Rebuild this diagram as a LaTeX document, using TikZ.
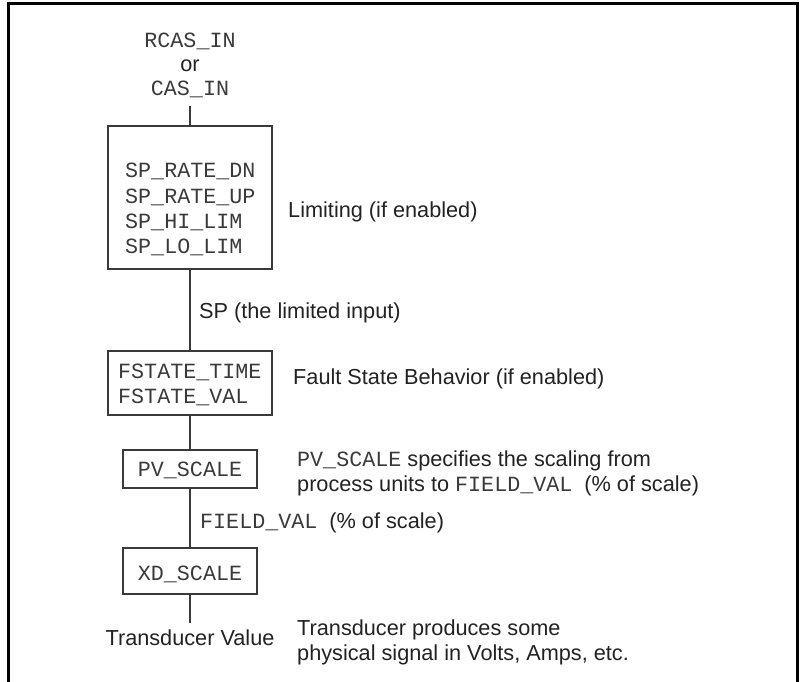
\documentclass[tikz,border=0pt]{standalone}
\usepackage{fontspec}
\setmainfont{Liberation Sans}
\setmonofont{Liberation Mono}
\definecolor{linegray}{HTML}{3A3A3A}
\definecolor{textgray}{HTML}{222222}
\definecolor{monogray}{HTML}{3A3A3A}
\newcommand\mytt[1]{{\ttfamily\color{monogray}#1}}
\begin{document}
\begin{tikzpicture}[x=1pt,y=-1pt,
  box/.style={draw=linegray, line width=1.4pt, inner sep=0pt},
  conn/.style={draw=linegray, line width=1.4pt},
  lbl/.style={inner sep=0pt, text=textgray, font=\fontsize{21.7}{25}\selectfont},
  lblw/.style={lbl, anchor=base west},
  lblc/.style={lbl, anchor=base},
  frame/.style={draw=black, line width=3pt}]
\useasboundingbox (0,0) rectangle (800,682);
% outer frame (open at the bottom)
\draw[frame] (8,682) -- (8,4) -- (797,4) -- (797,682);

% input labels
\node[lblc] (rcas) at (190,48) {\mytt{RCAS\_IN}};
\node[lblc] (or) at (190,72) {or};
\node[lblc] (cas) at (190,96) {\mytt{CAS\_IN}};
\coordinate (inEnd) at (190,106);

% boxes
\node[box, minimum width=164pt, minimum height=143pt] (lim) at (190,197.5) {};
\node[box, minimum width=164pt, minimum height=64pt] (fst) at (190,383) {};
\node[box, minimum width=134pt, minimum height=38pt] (pv) at (190,469) {};
\node[box, minimum width=134pt, minimum height=46pt] (xd) at (190,571) {};
\coordinate (tvTop) at (190,623);

% texts inside boxes
\node[lblw] (l1) at (125,177) {\mytt{SP\_RATE\_DN}};
\node[lblw] (l2) at (125,203) {\mytt{SP\_RATE\_UP}};
\node[lblw] (l3) at (125,228) {\mytt{SP\_HI\_LIM}};
\node[lblw] (l4) at (125,253) {\mytt{SP\_LO\_LIM}};
\node[lblw] (f1) at (118,378.5) {\mytt{FSTATE\_TIME}};
\node[lblw] (f2) at (118,403.5) {\mytt{FSTATE\_VAL}};
\node[lblc] (pvt) at (190,476) {\mytt{PV\_SCALE}};
\node[lblc] (xdt) at (190,580) {\mytt{XD\_SCALE}};

% side labels
\node[lblw] (limlbl) at (288,217) {Limiting (if enabled)};
\node[lblw] (splbl) at (199,318) {SP (the limited input)};
\node[lblw] (fslbl) at (293,384) {Fault State Behavior (if enabled)};
\node[lblw] (pv1) at (297,466) {\mytt{PV\_SCALE} specifies the scaling from};
\node[lblw] (pv2) at (297,491) {process units to \mytt{FIELD\_VAL}\ \ (\% of scale)};
\node[lblw] (fvlbl) at (200,528) {\mytt{FIELD\_VAL}\ \ (\% of scale)};
\node[lblc] (tv) at (190,645) {Transducer Value};
\node[lblw] (tp1) at (297,635) {Transducer produces some};
\node[lblw] (tp2) at (297,660) {physical signal in Volts, Amps, etc.};

% connectors
\draw[conn] (inEnd) -- (lim.north);
\draw[conn] (lim.south) -- (fst.north);
\draw[conn] (fst.south) -- (pv.north);
\draw[conn] (pv.south) -- (xd.north);
\draw[conn] (xd.south) -- (tvTop);
\end{tikzpicture}
\end{document}
